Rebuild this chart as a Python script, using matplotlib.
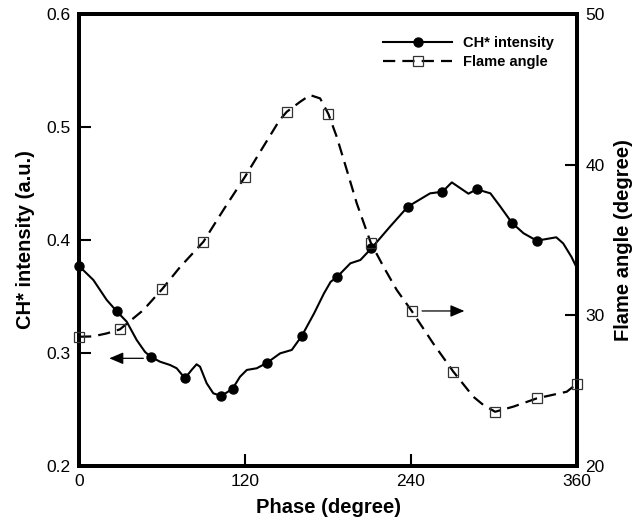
import numpy as np
import matplotlib
matplotlib.use("Agg")
import matplotlib.pyplot as plt
from matplotlib.lines import Line2D

plt.rcParams['font.family'] = ['Liberation Sans', 'DejaVu Sans']

#CH* intensity curve (phase in degree)
ch_phase = [0, 10.4, 20, 27.2, 34.5, 41.7, 47.7, 51.8, 58.6, 65.8, 70.6, 76.6,
            81.4, 85, 87.5, 92.3, 97.1, 103, 111, 116.4, 121.3, 128.5, 136,
            145.4, 153.8, 161, 169.9, 177.1, 181.9, 186.3, 196.2, 203.4, 211.4,
            224.8, 237.7, 253.8, 262.7, 269.5, 281.5, 287.5, 297.4, 304.6,
            312.9, 321.3, 330.9, 345, 350, 356, 360]
ch_val = [0.377, 0.3646, 0.347, 0.337, 0.3277, 0.3115, 0.301, 0.2967, 0.2923,
          0.2894, 0.2865, 0.2776, 0.285, 0.29, 0.2879, 0.2732, 0.2643, 0.262,
          0.2684, 0.279, 0.285, 0.2865, 0.2914, 0.2997, 0.3027, 0.315, 0.335,
          0.3528, 0.363, 0.367, 0.3794, 0.3823, 0.3927, 0.4118, 0.4295, 0.4413,
          0.4427, 0.451, 0.441, 0.4449, 0.4413, 0.4295, 0.4153, 0.406, 0.3994,
          0.4024, 0.397, 0.385, 0.375]
#CH* marker points
ch_mk_phase = [0, 27.2, 51.8, 76.6, 103, 111, 136, 161, 186.3, 211.4, 237.7,
               262.7, 287.5, 312.9, 330.9]
ch_mk_val = [0.377, 0.337, 0.2967, 0.2776, 0.262, 0.2684, 0.2914, 0.315, 0.367,
             0.3927, 0.4295, 0.4427, 0.4449, 0.4153, 0.3994]

#Flame angle curve (degree)
fa_phase = [0, 10, 20, 29.6, 46.5, 60.2, 73, 89.9, 104.4, 120, 131, 145, 150.2,
            159.8, 167, 174.3, 180.3, 186.3, 193.6, 200.8, 210.9, 220.1, 229.7,
            240.5, 256, 270.6, 285, 292.3, 300.8, 314, 331, 352.6, 360]
fa_val = [28.58, 28.6, 28.8, 29.07, 30.35, 31.75, 33.2, 34.88, 37.0, 39.2,
          40.86, 42.96, 43.51, 44.17, 44.62, 44.4, 43.36, 41.85, 39.64, 37.43,
          34.82, 33.23, 31.68, 30.29, 28.14, 26.26, 24.6, 24.05, 23.6, 23.94,
          24.49, 24.93, 25.47]
#Flame angle marker points
fa_mk_phase = [0, 29.6, 60.2, 89.9, 120, 150.2, 180.3, 210.9, 240.5, 270.6,
               300.8, 331, 360]
fa_mk_val = [28.58, 29.07, 31.75, 34.88, 39.2, 43.51, 43.36, 34.82, 30.29,
             26.26, 23.6, 24.49, 25.47]

fig = plt.figure(figsize=(6.35, 5.29), dpi=100)
ax = fig.add_axes([0.1244, 0.1191, 0.7843, 0.8544])
ax2 = ax.twinx()

#CH* intensity on the left axis
ax.plot(ch_phase, ch_val, '-', color='black', lw=1.5, solid_joinstyle='round')
ax.plot(ch_mk_phase, ch_mk_val, 'o', color='black', ms=6.5, clip_on=False, zorder=5)

#Flame angle on the right axis
ax2.plot(fa_phase, fa_val, color='black', lw=1.6, dashes=(5.5, 3.2))
ax2.plot(fa_mk_phase, fa_mk_val, 's', mfc='none', mec='#333333', mew=0.9, ms=6.5,
         clip_on=False, zorder=5)

ax.set_xlim(0, 360)
ax.set_ylim(0.2, 0.6)
ax2.set_ylim(20, 50)
ax.set_xticks([0, 120, 240, 360])
ax.set_yticks([0.2, 0.3, 0.4, 0.5, 0.6])
ax2.set_yticks([20, 30, 40, 50])

for a in (ax, ax2):
    for s in a.spines.values():
        s.set_linewidth(2.8)
ax.tick_params(direction='in', length=8.5, width=1.5, labelsize=12.5, pad=6,
               right=False, top=False)
ax2.tick_params(direction='in', length=8.5, width=1.5, labelsize=12.5, pad=6)

ax.set_xlabel('Phase (degree)', fontsize=14.5, fontweight='bold', labelpad=6)
ax.set_ylabel('CH* intensity (a.u.)', fontsize=14.5, fontweight='bold', labelpad=8)
ax2.set_ylabel('Flame angle (degree)', fontsize=14.5, fontweight='bold', labelpad=7)

#Arrows pointing to the axis each curve belongs to
ax.annotate('', xy=(21.9, 0.2953), xytext=(46.5, 0.2953),
            arrowprops=dict(arrowstyle='-|>,head_length=0.85,head_width=0.36',
                            mutation_scale=10, color='black', lw=0.9,
                            shrinkA=0, shrinkB=0))
ax2.annotate('', xy=(278.6, 30.29), xytext=(248, 30.29),
             arrowprops=dict(arrowstyle='-|>,head_length=0.85,head_width=0.36',
                             mutation_scale=10, color='black', lw=0.9,
                             shrinkA=0, shrinkB=0))

#Legend
h1 = Line2D([], [], color='black', lw=1.5, marker='o', ms=6.5)
h2 = Line2D([], [], color='black', lw=1.6, dashes=(5.5, 3.2), marker='s',
            mfc='none', mec='#333333', mew=0.9, ms=7)
leg = ax2.legend([h1, h2], ['CH* intensity', 'Flame angle'], loc='upper left',
                 bbox_to_anchor=(0.585, 0.98), frameon=False, numpoints=1,
                 handlelength=4.7, handletextpad=0.75, labelspacing=0.35,
                 prop={'size': 10.5, 'weight': 'bold'})

plt.savefig('out.png', dpi=100)
